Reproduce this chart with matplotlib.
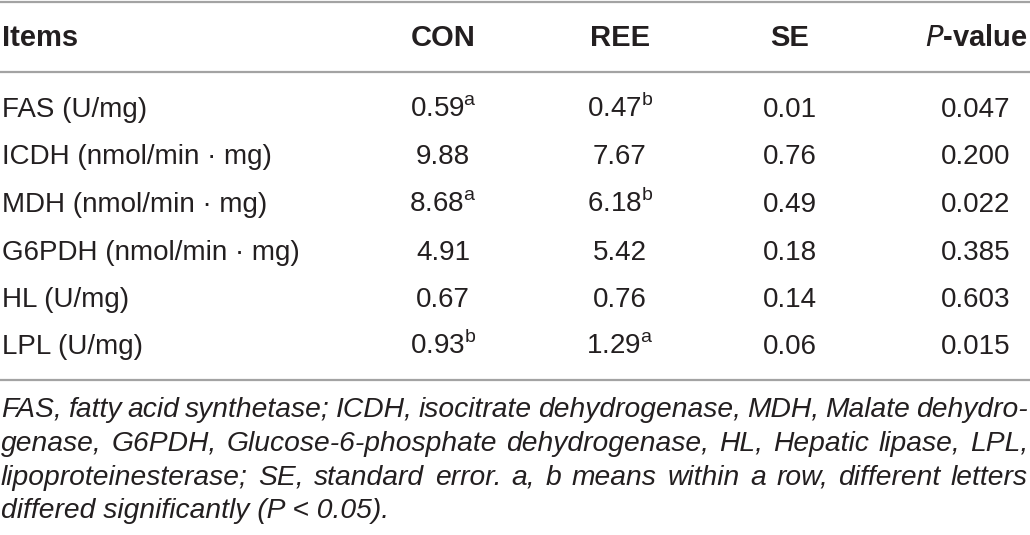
import matplotlib
matplotlib.use("Agg")
import matplotlib.pyplot as plt

# ---- data ----
headers = ["Items", "CON", "REE", "SE", "P-value"]
items = ["FAS (U/mg)", "ICDH (nmol/min · mg)", "MDH (nmol/min · mg)",
         "G6PDH (nmol/min · mg)", "HL (U/mg)", "LPL (U/mg)"]
con = ["0.59", "9.88", "8.68", "4.91", "0.67", "0.93"]
con_sup = ["a", "", "a", "", "", "b"]
ree = ["0.47", "7.67", "6.18", "5.42", "0.76", "1.29"]
ree_sup = ["b", "", "b", "", "", "a"]
se = ["0.01", "0.76", "0.49", "0.18", "0.14", "0.06"]
pval = ["0.047", "0.200", "0.022", "0.385", "0.603", "0.015"]
footnote_lines = [
    "FAS, fatty acid synthetase; ICDH, isocitrate dehydrogenase, MDH, Malate dehydro-",
    "genase, G6PDH, Glucose-6-phosphate dehydrogenase, HL, Hepatic lipase, LPL,",
    "lipoproteinesterase; SE, standard error. a, b means within a row, different letters",
    "differed significantly (P < 0.05).",
]

W, H = 1030, 535
fig = plt.figure(figsize=(W / 100, H / 100), dpi=100)
ax = fig.add_axes([0, 0, 1, 1])
ax.set_xlim(0, W)
ax.set_ylim(H, 0)
ax.axis("off")

TXT = "#231f20"
LINE = "#a3a3a3"
BODY_FONT = "Liberation Sans"
HEAD_FONT = "Liberation Sans"

# rules
for yy in (1.5, 72, 379.5):
    ax.plot([0, W], [yy, yy], color=LINE, lw=1.6, solid_capstyle="butt")

col_x = [2, 443, 620, 790, 976]

# header
hb = 46
ax.text(col_x[0], hb, headers[0], ha="left", va="baseline", fontsize=21,
        fontweight="bold", family=HEAD_FONT, color=TXT)
for x, h in zip(col_x[1:4], headers[1:4]):
    ax.text(x, hb, h, ha="center", va="baseline", fontsize=21,
            fontweight="bold", family=HEAD_FONT, color=TXT)
ax.text(col_x[4], hb, r"$\mathbf{\mathit{P}}$" + "-value", ha="center", va="baseline",
        fontsize=21, fontweight="bold", family=HEAD_FONT, color=TXT)

def sup(v, s):
    if s:
        return v + r"$^{\mathregular{" + s + "}}$"
    return v

row0, step = 117, 47.5
for i in range(len(items)):
    yb = row0 + i * step
    kw = dict(va="baseline", fontsize=20, family=BODY_FONT, color=TXT)
    ax.text(col_x[0], yb, items[i], ha="left", **kw)
    ax.text(col_x[1], yb, sup(con[i], con_sup[i]), ha="center", **kw)
    ax.text(col_x[2], yb, sup(ree[i], ree_sup[i]), ha="center", **kw)
    ax.text(col_x[3], yb, se[i], ha="center", **kw)
    ax.text(col_x[4], yb, pval[i], ha="center", **kw)

# footnote, justified
fig.canvas.draw()
renderer = fig.canvas.get_renderer()
fn_kw = dict(va="baseline", fontsize=20.3, family="Liberation Sans",
             style="italic", color=TXT)
fb = [417, 451, 485, 518]
left, right = 1, 1028
for li, line in enumerate(footnote_lines):
    words = line.split(" ")
    if li == len(footnote_lines) - 1:
        ax.text(left, fb[li], line, ha="left", **fn_kw)
        continue
    objs = [ax.text(0, fb[li], w, ha="left", **fn_kw) for w in words]
    widths = []
    for o in objs:
        bb = o.get_window_extent(renderer=renderer)
        widths.append(bb.width)
    gap = (right - left - sum(widths)) / (len(words) - 1)
    x = left
    for o, wdt in zip(objs, widths):
        o.set_x(x)
        x += wdt + gap

fig.savefig("out.png", dpi=100)
